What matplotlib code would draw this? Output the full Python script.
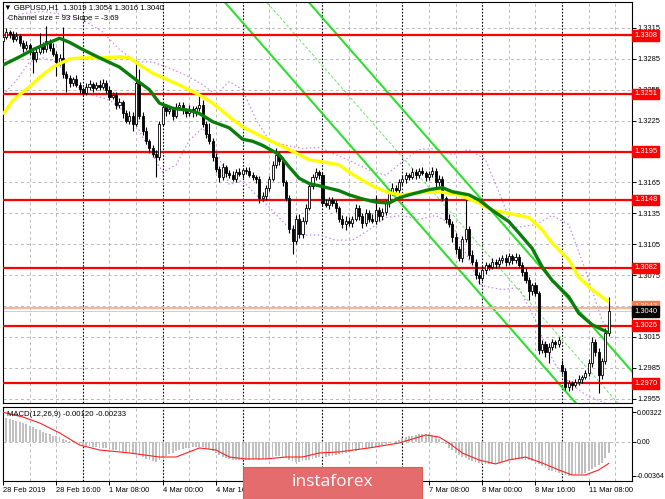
import numpy as np
import matplotlib.pyplot as plt
from matplotlib.patches import Rectangle
from matplotlib.transforms import blended_transform_factory

plt.rcParams['font.family'] = ['Liberation Sans', 'DejaVu Sans']

# GBPUSD H1 closes, bar 0 = 28 Feb 00:00 ... bar 182 = 11 Mar 14:00
closes = [
    1.3306, 1.3311, 1.3309, 1.3304, 1.3307, 1.3300, 1.3296, 1.3298, 1.3292,
    1.3285, 1.3292, 1.3298, 1.3295, 1.3302, 1.3296, 1.3290, 1.3282, 1.3286, 1.3270,
    1.3266, 1.3262, 1.3265, 1.3260, 1.3256, 1.3252, 1.3258, 1.3261, 1.3257, 1.3260, 1.3258, 1.3262,
    1.3255, 1.3248, 1.3250, 1.3240, 1.3243, 1.3232, 1.3225, 1.3230, 1.3222,
    1.3262,
    1.3230, 1.3215, 1.3205, 1.3198, 1.3193, 1.3190,
    1.3222, 1.3238,
    1.3234, 1.3236, 1.3230, 1.3238, 1.3240, 1.3235, 1.3232, 1.3236, 1.3233, 1.3237,
    1.3240, 1.3222, 1.3212, 1.3205, 1.3190, 1.3178, 1.3170, 1.3180, 1.3174,
    1.3172, 1.3168, 1.3175, 1.3173, 1.3177, 1.3176, 1.3172, 1.3170, 1.3168,
    1.3150, 1.3152, 1.3160, 1.3168,
    1.3182, 1.3192, 1.3186, 1.3165, 1.3150, 1.3120,
    1.3108, 1.3130, 1.3115, 1.3128, 1.3140,
    1.3162, 1.3170, 1.3175, 1.3172,
    1.3145, 1.3143, 1.3148, 1.3145, 1.3140,
    1.3130, 1.3125, 1.3128, 1.3126, 1.3130,
    1.3140, 1.3132, 1.3126, 1.3135, 1.3130, 1.3128, 1.3138, 1.3132, 1.3136,
    1.3145, 1.3155, 1.3160, 1.3158, 1.3165,
    1.3168, 1.3172, 1.3170, 1.3175, 1.3172, 1.3176, 1.3174, 1.3170, 1.3173,
    1.3176, 1.3165, 1.3168,
    1.3150, 1.3130, 1.3125, 1.3112,
    1.3100, 1.3092, 1.3110, 1.3120, 1.3095, 1.3088,
    1.3075, 1.3072,
    1.3080, 1.3085, 1.3083, 1.3088, 1.3086, 1.3090, 1.3092, 1.3088, 1.3094, 1.3090, 1.3093, 1.3085,
    1.3078, 1.3070, 1.3060, 1.3065, 1.3058,
    1.3002,
    1.3008, 1.3000, 1.3005, 1.3010, 1.3008, 1.3012,
    1.2982, 1.2966,
    1.2970, 1.2968, 1.2971, 1.2974, 1.2976, 1.2980,
    1.2990, 1.3010, 1.3000,
    1.2978, 1.2992, 1.3019, 1.3040,
]
first_open = 1.3302
gap_opens = {168: 1.2988}

# wick lengths in pips above / below the body
wick_up = [
    3, 4, 2, 3, 4, 2, 3, 4, 2, 3,   4, 12, 3, 15, 2, 4, 3, 4, 30, 3,
    3, 2, 4, 3, 2, 4, 3, 2, 3, 4,   3, 2, 4, 3, 3, 4, 2, 3, 4, 3,
    22, 13, 3, 4, 2, 3, 4, 3, 4, 3, 3, 2, 4, 3, 3, 2, 4, 3, 2, 10,
    5, 3, 11, 3, 4, 3, 4, 2, 3, 4,  3, 4, 2, 3, 4, 3, 2, 3, 4, 3,
    3, 4, 6, 3, 4, 2, 3, 4, 3, 4,   3, 4, 3, 3, 4, 2, 3, 4, 3, 3,
    3, 2, 3, 4, 3, 2, 4, 3, 3, 4,   3, 4, 15, 3, 4, 3, 2, 4, 3, 3,
    4, 3, 2, 4, 3, 3, 4, 2, 3, 4,   3, 4, 3, 2, 4, 3, 4, 3, 3, 30,
    3, 4, 3, 3, 4, 3, 2, 4, 3, 3,   3, 4, 3, 2, 4, 3, 3, 4, 3, 2,
    3, 2, 4, 3, 4, 3, 2, 3, 5, 3,   3, 2, 3, 4, 2, 3, 4, 5, 3, 4,
    3, 5, 14,
]
wick_dn = [
    3, 2, 4, 3, 2, 3, 4, 2, 3, 14,  3, 2, 4, 3, 3, 2, 14, 3, 4, 13,
    4, 3, 2, 4, 3, 2, 3, 4, 2, 3,   2, 3, 3, 2, 4, 3, 4, 2, 3, 7,
    2, 3, 4, 3, 4, 3, 20, 3, 2, 4,  3, 4, 2, 3, 4, 3, 2, 4, 3, 3,
    3, 4, 3, 4, 3, 5, 3, 4, 3, 2,   3, 2, 4, 3, 2, 3, 4, 5, 3, 4,
    3, 2, 3, 4, 3, 3, 4, 12, 3, 4,  4, 3, 2, 3, 3, 4, 3, 2, 4, 3,
    4, 3, 4, 6, 3, 4, 2, 3, 5, 3,   3, 2, 3, 4, 3, 3, 4, 2, 3, 4,
    3, 4, 3, 2, 4, 3, 2, 4, 3, 3,   4, 3, 3, 4, 3, 5, 4, 3, 4, 3,
    4, 3, 4, 6, 3, 4, 3, 2, 4, 3,   3, 4, 3, 4, 3, 3, 4, 3, 9, 4,
    3, 4, 3, 4, 10, 3, 4, 3, 3, 2,  3, 4, 2, 3, 4, 2, 3, 4, 3, 17,
    4, 3, 3,
]

# moving averages read at sample bars
green_bars = [0, 5, 9, 14, 17, 20, 24, 29, 35, 39, 44, 47, 51, 56, 59, 63, 68, 72, 75, 78,
              83, 86, 89, 92, 96, 101, 104, 108, 112, 116, 119, 122, 128, 132, 135, 140, 143,
              147, 152, 155, 159, 162, 165, 170, 173, 177, 182]
green_ma = [1.3279, 1.3287, 1.3294, 1.3301, 1.3305, 1.3301, 1.3294, 1.3286, 1.3277, 1.3267,
            1.3255, 1.3242, 1.3237, 1.3235, 1.3232, 1.3224, 1.3218, 1.3207, 1.3205, 1.3201,
            1.3192, 1.3180, 1.3169, 1.3164, 1.3161, 1.3157, 1.3153, 1.3149, 1.3146, 1.3145,
            1.3150, 1.3153, 1.3158, 1.3160, 1.3156, 1.3153, 1.3148, 1.3138, 1.3127, 1.3116,
            1.3101, 1.3083, 1.3070, 1.3054, 1.3038, 1.3027, 1.3019]
yellow_bars = [0, 3, 8, 11, 15, 20, 24, 29, 35, 38, 41, 45, 50, 54, 59, 63, 69, 72, 78, 84,
               89, 92, 96, 101, 104, 108, 112, 116, 120, 125, 131, 137, 143, 147, 152, 158,
               162, 165, 170, 173, 177, 182]
yellow_ma = [1.3231, 1.3245, 1.3258, 1.3267, 1.3277, 1.3285, 1.3286, 1.3286, 1.3287, 1.3286,
             1.3279, 1.3271, 1.3264, 1.3258, 1.3250, 1.3242, 1.3226, 1.3219, 1.3209, 1.3200,
             1.3192, 1.3187, 1.3185, 1.3182, 1.3175, 1.3167, 1.3160, 1.3155, 1.3153, 1.3155,
             1.3156, 1.3153, 1.3145, 1.3138, 1.3135, 1.3131, 1.3119, 1.3106, 1.3090, 1.3073,
             1.3061, 1.3049]

# bands (dotted violet)
bb_up_bars = [0, 6, 12, 18, 24, 30, 35, 40, 45, 50, 55, 60, 64, 68, 72, 76, 80, 85, 90, 95,
              100, 105, 110, 115, 120, 125, 130, 135, 140, 145, 150, 153, 160, 165, 170, 175,
              180, 182]
bb_upper = [1.3323, 1.3329, 1.3331, 1.3328, 1.3323, 1.3311, 1.3294, 1.3282, 1.3282, 1.3276,
            1.3269, 1.3260, 1.3250, 1.3263, 1.3255, 1.3226, 1.3206, 1.3201, 1.3198, 1.3199,
            1.3192, 1.3185, 1.3177, 1.3172, 1.3185, 1.3197, 1.3198, 1.3192, 1.3197, 1.3187,
            1.3148, 1.3121, 1.3124, 1.3133, 1.3124, 1.3080, 1.3031, 1.3022]
bb_lo_bars = [0, 4, 8, 12, 16, 20, 24, 28, 32, 36, 40, 44, 48, 52, 56, 60, 64, 68, 72, 76,
              80, 85, 90, 95, 100, 105, 110, 115, 120, 125, 130, 135, 140, 143, 145, 150, 155,
              160, 163, 166, 170, 175, 180, 182]
bb_lower = [1.3250, 1.3264, 1.3282, 1.3286, 1.3282, 1.3266, 1.3253, 1.3249, 1.3245, 1.3235,
            1.3221, 1.3197, 1.3175, 1.3182, 1.3206, 1.3218, 1.3197, 1.3163, 1.3167, 1.3153,
            1.3141, 1.3124, 1.3114, 1.3114, 1.3109, 1.3109, 1.3119, 1.3131, 1.3133, 1.3129,
            1.3133, 1.3124, 1.3090, 1.3067, 1.3064, 1.3061, 1.3063, 1.3031, 1.3007, 1.2988,
            1.2971, 1.2959, 1.2952, 1.2949]

# regression channel: size 93 pips, slope -3.69 pips per bar
chan_bar = 92
chan_top = 1.33395
chan_slope = -3.69
chan_size = 93

levels = [1.3308, 1.3251, 1.3195, 1.3148, 1.3082, 1.3026, 1.2970]
price_ticks = [1.3315, 1.3285, 1.3255, 1.3225, 1.3195, 1.3165, 1.3135,
               1.3105, 1.3075, 1.3045, 1.3015, 1.2985, 1.2955]
bid = 1.3040
ask_line = 1.3043

# MACD(12,26,9) histogram and signal, in 1e-5
macd_hist = [
    265, 258, 250, 240, 230, 215, 205, 190, 175, 160,
    145, 125, 110, 95, 85, 70, 60, 50, 35, 25,
    15, 8, 0, -20, -30, -40, -45, -50, -55, -60,
    -65, -70, -75, -85, -90, -100, -105, -115, -120, -130,
    -125, -140, -160, -180, -195, -205, -215, -200, -175, -150,
    -130, -115, -100, -90, -80, -70, -60, -55, -50, -50,
    -55, -65, -80, -100, -120, -140, -160, -175, -185, -190,
    -195, -195, -195, -190, -190, -185, -185, -190, -185, -180,
    -170, -160, -150, -150, -160, -175, -195, -210, -215, -215,
    -210, -200, -190, -180, -170, -165, -165, -160, -155, -150,
    -140, -130, -125, -115, -110, -100, -95, -85, -80, -70,
    -65, -60, -55, -45, -35, -25, -15, -5, 10, 25,
    40, 50, 60, 70, 80, 85, 90, 90, 85, 75,
    60, 35, 5, -25, -60, -90, -115, -140, -160, -175,
    -190, -205, -215, -225, -235, -240, -240, -235, -230, -225,
    -220, -210, -200, -195, -190, -185, -185, -190, -195, -205,
    -215, -240, -265, -285, -300, -315, -325, -335, -345, -355,
    -364, -362, -358, -352, -345, -335, -315, -290, -270, -255,
    -225, -175, -120,
]
sig_bars = [0, 6, 11, 17, 23, 29, 38, 47, 52, 59, 64, 68, 73, 79, 85, 90, 95, 101, 110, 119,
            125, 127, 131, 134, 138, 143, 148, 152, 157, 162, 167, 171, 175, 179, 182]
sig_vals = [322, 270, 206, 98, -33, -87, -119, -163, -163, -65, -87, -163, -184, -184, -163,
            -163, -119, -108, -65, -11, 54, 76, 54, -11, -119, -195, -238, -195, -163, -228,
            -303, -358, -358, -303, -233]

label_bars = [0, 16, 32, 48, 64, 80, 96, 112, 128, 144, 160, 176]
time_labels = ["28 Feb 2019", "28 Feb 16:00", "1 Mar 08:00", "4 Mar 00:00", "4 Mar 16:00",
               "5 Mar 08:00", "6 Mar 00:00", "6 Mar 16:00", "7 Mar 08:00", "8 Mar 00:00",
               "8 Mar 16:00", "11 Mar 08:00"]

pip = 0.0001
fs = 5.4
W, H = 665, 499

fig = plt.figure(figsize=(W / 100, H / 100), dpi=100)
ax = fig.add_axes([3 / W, 1 - 403 / H, 629 / W, 401 / H])
axm = fig.add_axes([3 / W, 1 - 481 / H, 629 / W, 74 / H], sharex=ax)

ax.set_xlim(0.3, 189.0)
ax.set_ylim(1.29509, 1.33402)
axm.set_ylim(-0.00423, 0.00379)

# grid
for a in (ax, axm):
    for b in range(8, 190, 8):
        if b % 24 == 0:
            a.axvline(b, color='black', lw=0.8, dashes=(1.5, 1.5), zorder=1)
        else:
            a.axvline(b, color='#b8b8b8', lw=0.7, dashes=(3, 3), zorder=1)
for p in price_ticks:
    ax.axhline(p, color='#b8b8b8', lw=0.7, dashes=(3, 3), zorder=1)
axm.axhline(0, color='#b8b8b8', lw=0.7, dashes=(3, 3), zorder=1)

# candles
n = len(closes)
bars = np.arange(n)
opens = [first_open] + closes[:-1]
for b, p in gap_opens.items():
    opens[b] = p
o = np.array(opens)
c = np.array(closes)
hi = np.maximum(o, c) + np.array(wick_up) * pip
lo = np.minimum(o, c) - np.array(wick_dn) * pip
body = np.maximum(np.abs(c - o), 0.00004)
bottom = np.minimum(o, c)
bull = c >= o

# bands, channel, levels
ax.plot(bb_up_bars, bb_upper, color='#c78cf0', lw=0.9, ls=(0, (1.2, 2)), zorder=2)
ax.plot(bb_lo_bars, bb_lower, color='#c78cf0', lw=0.9, ls=(0, (1.2, 2)), zorder=2)

cx = np.array([30, 200])
top_line = chan_top + chan_slope * pip * (cx - chan_bar)
ax.plot(cx, top_line, color='#2ee02e', lw=1.5, zorder=2.2)
ax.plot(cx, top_line - chan_size * pip, color='#2ee02e', lw=1.5, zorder=2.2)
ax.plot(cx, top_line - chan_size * pip / 2, color='#66e866', lw=0.7, dashes=(3, 2), zorder=2.2)

for lv in levels:
    ax.axhline(lv, color='#ff0000', lw=1.6, zorder=2.6)
ax.axhline(ask_line, color='#f8b49c', lw=1.6, zorder=2.5)
ax.axhline(bid, color='#c8c8c8', lw=0.6, zorder=2.5)

ax.vlines(bars, lo, hi, color='black', lw=0.8, zorder=3)
ax.bar(bars[bull], body[bull], bottom=bottom[bull], width=0.62, color='white',
       edgecolor='black', linewidth=0.6, zorder=4)
ax.bar(bars[~bull], body[~bull], bottom=bottom[~bull], width=0.62, color='black',
       edgecolor='black', linewidth=0.6, zorder=4)

ax.plot(yellow_bars, yellow_ma, color='#ffff00', lw=2.4, zorder=5, solid_capstyle='butt')
ax.plot(green_bars, green_ma, color='#0b7d0b', lw=2.4, zorder=5.1, solid_capstyle='butt')

# right price scale
ax.yaxis.tick_right()
ax.set_yticks(price_ticks)
ax.set_yticklabels([f"{p:.4f}" for p in price_ticks])
ax.tick_params(axis='y', labelsize=fs, length=3, width=0.7, pad=1, colors='black')
ax.tick_params(axis='x', bottom=False, labelbottom=False)

tr = blended_transform_factory(ax.transAxes, ax.transData)
for lv in levels:
    ax.annotate(f"{lv:.4f}", xy=(1, lv), xycoords=tr, xytext=(1.6, 0),
                textcoords='offset points', ha='left', va='center', fontsize=fs,
                color='white', annotation_clip=False, zorder=10,
                bbox=dict(boxstyle='square,pad=0.25', fc='#ff0000', ec='#ff0000'))
ax.annotate(f"{ask_line:.4f}", xy=(1, ask_line), xycoords=tr, xytext=(1.6, 1.5),
            textcoords='offset points', ha='left', va='center', fontsize=fs,
            color='white', annotation_clip=False, zorder=10,
            bbox=dict(boxstyle='square,pad=0.25', fc='#f47a58', ec='#f47a58'))
ax.annotate(f"{bid:.4f}", xy=(1, bid), xycoords=tr, xytext=(1.6, 0),
            textcoords='offset points', ha='left', va='center', fontsize=fs,
            color='white', annotation_clip=False, zorder=11,
            bbox=dict(boxstyle='square,pad=0.25', fc='black', ec='black'))

# MACD panel
axm.bar(bars, np.array(macd_hist) * 1e-5, width=0.55, color='#c0c0c0', zorder=2)
axm.plot(sig_bars, np.array(sig_vals) * 1e-5, color='#ff2020', lw=0.8, zorder=3)
axm.yaxis.tick_right()
axm.set_yticks([0.00322, 0.0, -0.00364])
axm.set_yticklabels(["0.00322", "0.00", "-0.00364"])
axm.tick_params(axis='y', labelsize=5.0, length=3, width=0.7, pad=0.5)
axm.set_xticks(label_bars)
axm.set_xticklabels(time_labels)
axm.tick_params(axis='x', labelsize=fs, length=3, width=0.7, pad=1.5)
for t in axm.get_xticklabels():
    t.set_ha('left')

for a in (ax, axm):
    for s in a.spines.values():
        s.set_color('black')
        s.set_linewidth(0.8)

# header texts
fig.text(4 / W, 1 - 8 / H, "\u25bc GBPUSD,H1  1.3019 1.3054 1.3016 1.3040", fontsize=fs + 0.2,
         va='center', ha='left', zorder=12)
fig.text(8 / W, 1 - 19 / H, "Channel size = 93 Slope = -3.69", fontsize=fs + 0.2,
         va='center', ha='left', zorder=12)
fig.text(7 / W, 1 - 414 / H, "MACD(12,26,9) -0.00120 -0.00233", fontsize=fs + 0.2,
         va='center', ha='left', zorder=12)

# watermark
fig.add_artist(Rectangle((243 / W, 0), 179 / W, 32 / H, transform=fig.transFigure,
                         fc='#e46c6c', ec='#d85c5c', lw=0.8, zorder=20))
fig.text(332 / W, 1 - 482 / H, "instaforex", fontsize=12.5, color='white',
         family=['Open Sans', 'DejaVu Sans'], ha='center', va='center', zorder=21)

fig.savefig("out.png", dpi=100)
